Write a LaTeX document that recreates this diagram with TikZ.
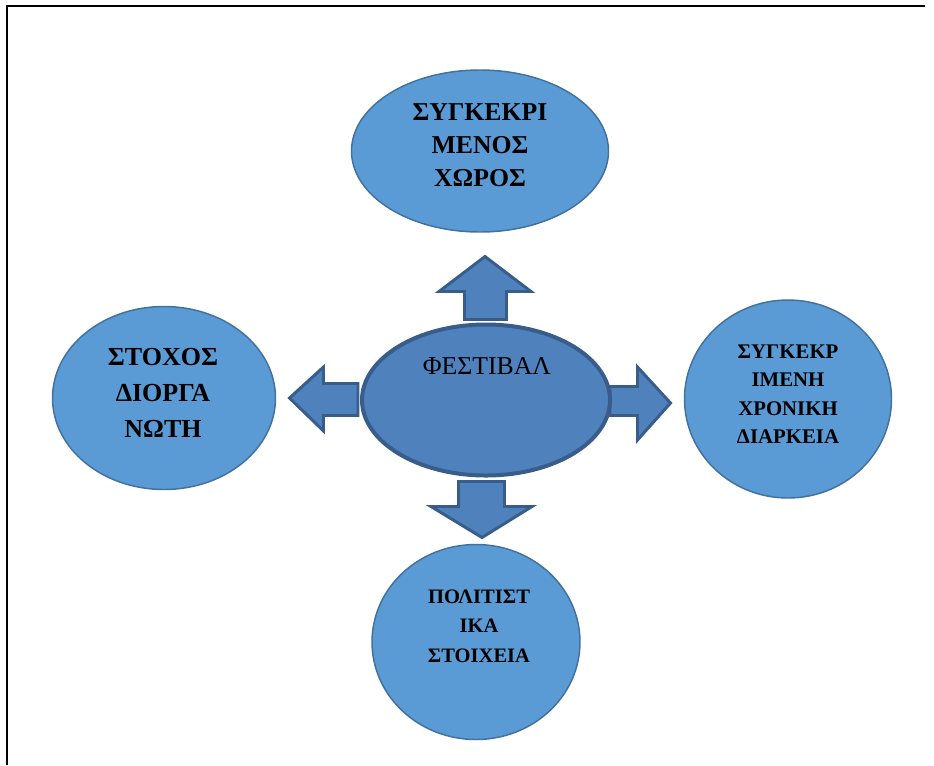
\documentclass[tikz,border=0pt]{standalone}
\usepackage{fontspec}
\setmainfont{Liberation Serif}
\usetikzlibrary{shapes.geometric}
\definecolor{bubblefill}{HTML}{5B9BD5}
\definecolor{bubbleline}{HTML}{41719C}
\definecolor{festfill}{HTML}{4F81BD}
\definecolor{festline}{HTML}{385D8A}
\tikzset{
  bubble/.style={ellipse,draw=bubbleline,fill=bubblefill,line width=1.1pt,inner sep=0pt},
  blockarrow/.style={draw=festline,fill=festfill,line width=2.2pt,line join=miter},
  caption/.style={align=center,inner sep=0pt,font=\bfseries}
}
\begin{document}
\begin{tikzpicture}[x=0.75pt,y=-0.75pt]
   \useasboundingbox (0,0) rectangle (934,765);
   % frame
   \draw[line width=2pt] (7,765) -- (7,6) -- (925,6);

   % outer ellipses
   \node[bubble,minimum width=192.75pt,minimum height=121.5pt] (xoros) at (480,151) {};
   \node[bubble,minimum width=167.25pt,minimum height=137.25pt] (stoxos) at (164,398) {};
   \node[bubble,minimum width=155.25pt,minimum height=148.5pt] (diarkeia) at (788,399) {};
   \node[bubble,minimum width=156pt,minimum height=146.25pt] (politist) at (476,642) {};

   % block arrows
\draw[blockarrow] (464.5,319.5) -- (464.5,291.5) -- (439,291.5) -- (485,256.5) -- (531,291.5) -- (506.5,291.5) -- (506.5,319.5) -- cycle;
\draw[blockarrow] (358,383.5) -- (323.5,383.5) -- (323.5,367) -- (289.5,398) -- (323.5,431) -- (323.5,415.5) -- (358,415.5) -- cycle;
\draw[blockarrow] (610,386.5) -- (637.5,386.5) -- (637.5,367) -- (670.5,403) -- (637.5,440) -- (637.5,415.5) -- (610,415.5) -- cycle;
\draw[blockarrow] (458.5,481.5) -- (458.5,506.5) -- (431,506.5) -- (482,537.5) -- (532,506.5) -- (504.5,506.5) -- (504.5,481.5) -- cycle;

   % centre
   \node[ellipse,draw=festline,fill=festfill,line width=3pt,minimum width=186pt,minimum height=113.25pt] (fest) at (486,400) {};

   % texts
   \node[caption,font=\bfseries\fontsize{19.3}{24.75}\selectfont] (xorosT) at (480,145) {ΣΥΓΚΕΚΡΙ\\ΜΕΝΟΣ\\ΧΩΡΟΣ};
   \node[caption,font=\bfseries\fontsize{19.5}{27}\selectfont] (stoxosT) at (163,392.5) {ΣΤΟΧΟΣ\\ΔΙΟΡΓΑ\\ΝΩΤΗ};
   \node[caption,font=\bfseries\fontsize{15.6}{21.4}\selectfont] (diarkeiaT) at (788,394) {ΣΥΓΚΕΚΡ\\ΙΜΕΝΗ\\ΧΡΟΝΙΚΗ\\ΔΙΑΡΚΕΙΑ};
   \node[caption,font=\bfseries\fontsize{15.4}{22}\selectfont] (politistT) at (479,626) {ΠΟΛΙΤΙΣΤ\\ΙΚΑ\\ΣΤΟΙΧΕΙΑ};
   \node[inner sep=0pt,font=\fontsize{19.3}{23}\selectfont] (festT) at (487,366.5) {ΦΕΣΤΙΒΑΛ};
\end{tikzpicture}
\end{document}
